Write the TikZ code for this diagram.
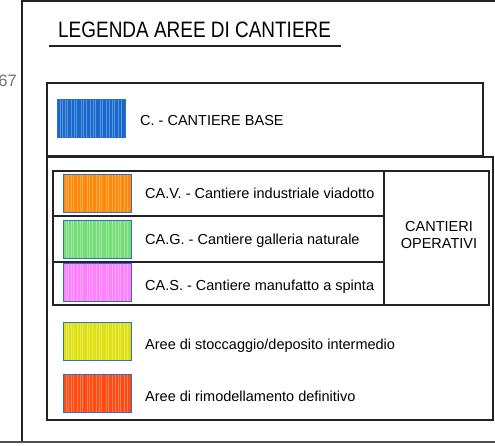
\documentclass[tikz,border=0pt]{standalone}
\usepackage{fontspec}
\setmainfont{Liberation Sans}
\definecolor{cblue}{RGB}{22,104,204}
\definecolor{corange}{RGB}{255,136,8}
\definecolor{cgreen}{RGB}{118,222,118}
\definecolor{cmagenta}{RGB}{255,128,255}
\definecolor{cyellow}{RGB}{222,224,18}
\definecolor{cred}{RGB}{255,74,16}
\definecolor{cedge}{RGB}{50,110,200}
\definecolor{lineg}{RGB}{35,35,35}
\tikzset{
  frameline/.style={draw=lineg,line width=1.4pt},
  boxline/.style={draw=lineg,line width=1.3pt},
  swatch/.style={rectangle,draw=cedge,line width=0.8pt,fill=#1,minimum width=68pt,minimum height=38pt,inner sep=0pt,
    path picture={
      \foreach \s in {3,5,8,10,14,17,19,24,26,29,33,36,38,43,45,49,52,55,57,61,64}{
        \draw[white,opacity=0.3,line width=0.8pt]
          ([xshift=\s pt]path picture bounding box.south west) --
          ([xshift=\s pt]path picture bounding box.north west);
      }}},
  lbl/.style={anchor=base west,inner sep=0pt,font=\fontsize{14.5pt}{17pt}\selectfont},
}
\begin{document}
\begin{tikzpicture}[x=1pt,y=-1pt]
\useasboundingbox (0,0) rectangle (495,446);
% outer frame
\draw[frameline] (22,0) -- (22,442);
\draw[frameline] (22,1) -- (495,1);
\draw[frameline,draw=lineg!80] (0,442) -- (495,442);
\node[anchor=base east,inner sep=0pt,text=black!55,font=\fontsize{16.5pt}{18pt}\selectfont] (num) at (17,87) {67};
% title
\node[anchor=base west,inner sep=0pt,font=\fontsize{22.3pt}{24pt}\selectfont] (title) at (58,38) {\scalebox{0.85}[1]{LEGENDA AREE DI CANTIERE}};
\draw[line width=1.5pt,draw=lineg] (49,46) -- (341,46);
% box 1
\draw[boxline] (47,83) rectangle (483,156);
\node[swatch=cblue] (sw1) at (91,118) {};
\node[lbl] (t1) at (140,126) {C. - CANTIERE BASE};
% box 2
\draw[boxline] (47,157) rectangle (493,420);
% table
\draw[boxline] (53,171) rectangle (489,305);
\draw[boxline] (53,216) -- (384,216);
\draw[boxline] (53,262) -- (384,262);
\draw[boxline] (384,171) -- (384,305);
\node[swatch=corange] (sw2) at (97,193) {};
\node[swatch=cgreen] (sw3) at (97,239) {};
\node[swatch=cmagenta] (sw4) at (97,282.7) {};
\node[lbl] (t2) at (145,199) {CA.V. - Cantiere industriale viadotto};
\node[lbl] (t3) at (145,244.7) {CA.G. - Cantiere galleria naturale};
\node[lbl] (t4) at (145,290.7) {CA.S. - Cantiere manufatto a spinta};
\node[anchor=base,inner sep=0pt,font=\fontsize{14.5pt}{17pt}\selectfont] (op1) at (439,231.3) {CANTIERI};
\node[anchor=base,inner sep=0pt,font=\fontsize{14.5pt}{17pt}\selectfont] (op2) at (439,249) {OPERATIVI};
% bottom items
\node[swatch=cyellow] (sw5) at (97,341.5) {};
\node[swatch=cred] (sw6) at (97,393.5) {};
\node[lbl] (t5) at (145,349.3) {Aree di stoccaggio/deposito intermedio};
\node[lbl] (t6) at (145,401.7) {Aree di rimodellamento definitivo};
\end{tikzpicture}
\end{document}
